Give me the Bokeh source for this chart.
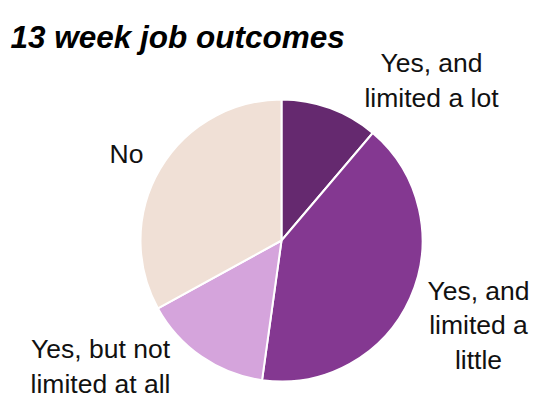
import math
from bokeh.plotting import figure
from bokeh.models import ColumnDataSource, Range1d
from bokeh.core.properties import value
from bokeh.embed import file_html
from bokeh.resources import INLINE

categories = ["Yes, and limited a lot", "Yes, and limited a little", "Yes, but not limited at all", "No"]
values = [11.2, 41.0, 14.8, 33.0]
colors = ["#65296f", "#843891", "#d5a4dc", "#f0e0d6"]
label_texts = ["Yes, and\nlimited a lot", "Yes, and\nlimited a\nlittle", "Yes, but not\nlimited at all", "No"]
title_text = "13 week job outcomes"

W, H = 533, 398
p = figure(width=W, height=H, output_backend="svg", toolbar_location=None,
           x_range=Range1d(0, W), y_range=Range1d(0, H), min_border=0)
p.axis.visible = False
p.grid.visible = False
p.outline_line_color = None
p.background_fill_color = "white"
p.border_fill_color = "white"

total = sum(values)
starts, ends = [], []
cum = 0.0
for v in values:
    starts.append(math.pi / 2 - 2 * math.pi * cum / total)
    cum += v
    ends.append(math.pi / 2 - 2 * math.pi * cum / total)

cx, cy, r = 281, H - 240, 141
src = ColumnDataSource(dict(start=starts, end=ends, color=colors, cat=categories))
p.wedge(x=cx, y=cy, radius=r, start_angle="start", end_angle="end", direction="clock",
        fill_color="color", line_color="white", line_width=2, source=src)

lx = [431, 478, 100, 126]
ly = [H - 80, H - 325, H - 366, H - 153]
lsrc = ColumnDataSource(dict(x=lx, y=ly, t=label_texts))
p.text(x="x", y="y", text="t", source=lsrc, text_font=value("Liberation Sans"),
       text_font_size="26.5px", text_align="center", text_baseline="middle",
       text_line_height=1.14, text_color="#111111")

p.text(x=[10], y=[H - 36], text=[title_text], text_font=value("Liberation Sans"),
       text_font_size="31.5px", text_font_style="bold italic", text_align="left",
       text_baseline="alphabetic", text_color="black")

open("out.html", "w").write(file_html(p, INLINE))
